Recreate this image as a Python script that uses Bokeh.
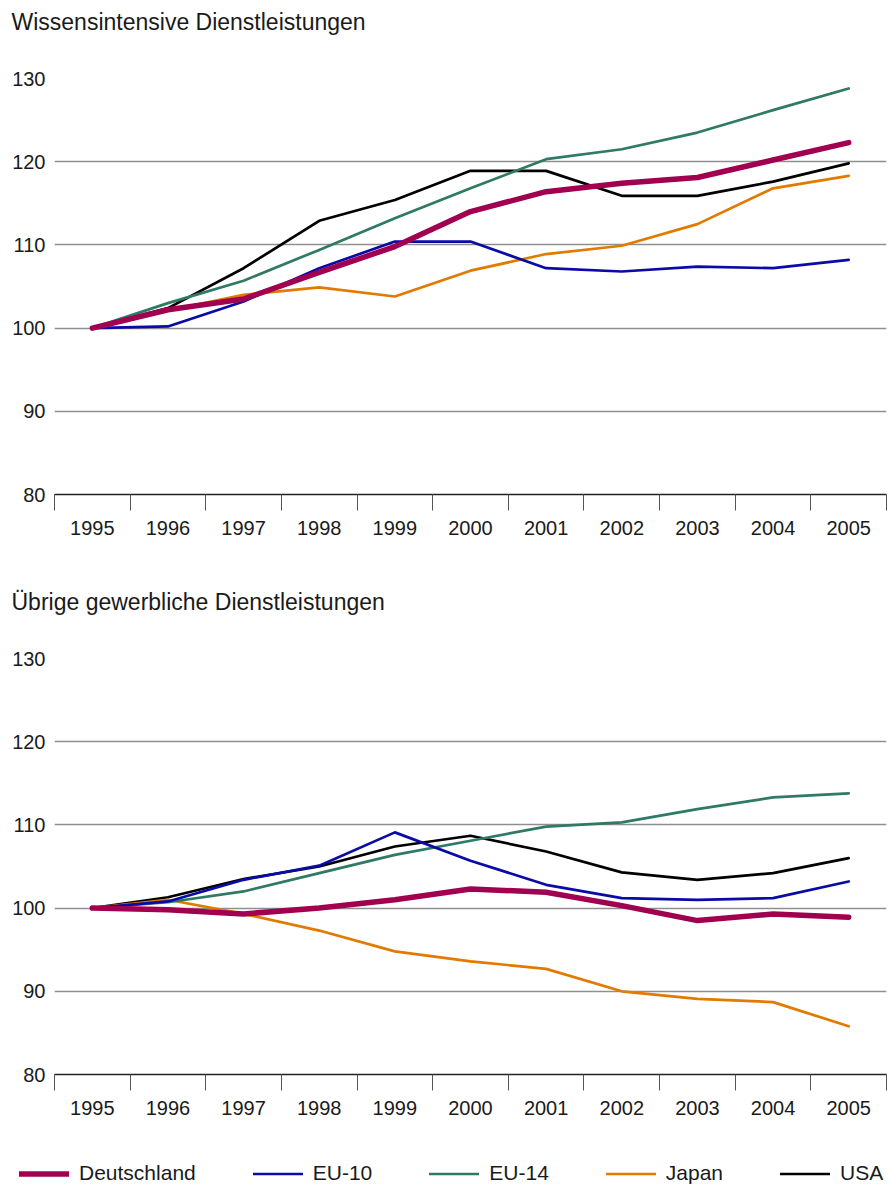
from bokeh.plotting import figure
from bokeh.layouts import column
from bokeh.models import Range1d, FixedTicker, Legend, LegendItem, Title
from bokeh.embed import file_html
from bokeh.resources import INLINE

years = [1995, 1996, 1997, 1998, 1999, 2000, 2001, 2002, 2003, 2004, 2005]
series_names = ["Deutschland", "EU-10", "EU-14", "Japan", "USA"]

# Wissensintensive Dienstleistungen
de_w = [100, 102.2, 103.5, 106.7, 109.8, 114.0, 116.4, 117.4, 118.1, 120.2, 122.3]
eu10_w = [100, 100.2, 103.2, 107.2, 110.4, 110.4, 107.2, 106.8, 107.4, 107.2, 108.2]
eu14_w = [100, 103.0, 105.7, 109.4, 113.2, 116.8, 120.3, 121.5, 123.5, 126.2, 128.8]
jp_w = [100, 102.1, 104.0, 104.9, 103.8, 106.9, 108.9, 109.9, 112.5, 116.8, 118.3]
us_w = [100, 102.4, 107.2, 112.9, 115.4, 118.9, 118.9, 115.9, 115.9, 117.6, 119.8]

# Übrige gewerbliche Dienstleistungen
de_u = [100, 99.8, 99.3, 100.0, 101.0, 102.3, 101.9, 100.3, 98.5, 99.3, 98.9]
eu10_u = [100, 100.8, 103.4, 105.1, 109.1, 105.7, 102.8, 101.2, 101.0, 101.2, 103.2]
eu14_u = [100, 100.7, 102.0, 104.2, 106.4, 108.1, 109.8, 110.3, 111.9, 113.3, 113.8]
jp_u = [100, 101.0, 99.3, 97.3, 94.8, 93.6, 92.7, 90.0, 89.1, 88.7, 85.8]
us_u = [100, 101.3, 103.5, 105.0, 107.4, 108.7, 106.8, 104.3, 103.4, 104.2, 106.0]

y_ticks = [80, 90, 100, 110, 120, 130]
titles = ["Wissensintensive Dienstleistungen", "Übrige gewerbliche Dienstleistungen"]

colors = {"Deutschland": "#A0004F", "EU-10": "#0A0AA8", "EU-14": "#2F7A64",
          "Japan": "#E27A00", "USA": "#000000"}
widths = {"Deutschland": 5.5, "EU-10": 2.7, "EU-14": 2.7, "Japan": 2.7, "USA": 2.7}
FONT = "Liberation Sans"


def make_fig(title, data, height, border_bottom):
    p = figure(width=890, height=height, output_backend="svg", toolbar_location=None,
               title=None,
               x_range=Range1d(years[0] - 0.5, years[-1] + 0.5),
               y_range=Range1d(80, 130),
               min_border_left=54, min_border_right=4,
               min_border_top=78, min_border_bottom=border_bottom)
    p.outline_line_color = None
    p.background_fill_color = "white"
    p.border_fill_color = "white"
    # spacer (nearest to the frame) and the visible title above it
    p.add_layout(Title(text=" ", text_font=FONT, text_font_size="10px", standoff=21), "above")
    p.add_layout(Title(text=title, text_font=FONT, text_font_size="23px",
                       text_font_style="normal", text_color="#1a1a1a",
                       align="left", offset=-43, standoff=16, vertical_align="top"), "above")

    xa = p.xaxis[0]
    xa.ticker = FixedTicker(ticks=years, minor_ticks=[y - 0.5 for y in years] + [years[-1] + 0.5])
    xa.major_label_overrides = {y: str(y) for y in years}
    xa.major_tick_out = 0
    xa.major_tick_in = 0
    xa.minor_tick_out = 16
    xa.minor_tick_in = 0
    xa.minor_tick_line_color = "#555555"
    xa.minor_tick_line_width = 1
    xa.axis_line_color = "#222222"
    xa.axis_line_width = 1.6
    xa.major_label_standoff = 10
    xa.major_label_text_font = FONT
    xa.major_label_text_font_size = "20px"
    xa.major_label_text_color = "#1a1a1a"

    ya = p.yaxis[0]
    ya.ticker = FixedTicker(ticks=y_ticks)
    ya.axis_line_color = None
    ya.major_tick_out = 0
    ya.major_tick_in = 0
    ya.minor_tick_line_color = None
    ya.major_label_standoff = 9
    ya.major_label_text_font = FONT
    ya.major_label_text_font_size = "20px"
    ya.major_label_text_color = "#1a1a1a"

    p.xgrid.visible = False
    p.ygrid[0].ticker = FixedTicker(ticks=y_ticks[1:])
    p.ygrid[0].grid_line_color = "#8f8f8f"
    p.ygrid[0].grid_line_width = 1.5

    renderers = {}
    for name in ["USA", "Japan", "EU-14", "EU-10", "Deutschland"]:
        renderers[name] = p.line(years, data[name], line_color=colors[name],
                                 line_width=widths[name], line_cap="round",
                                 line_join="round")
    return p, renderers


p1, r1 = make_fig(titles[0], {"Deutschland": de_w, "EU-10": eu10_w, "EU-14": eu14_w,
                              "Japan": jp_w, "USA": us_w}, 580, 86)
p2, r2 = make_fig(titles[1], {"Deutschland": de_u, "EU-10": eu10_u, "EU-14": eu14_u,
                              "Japan": jp_u, "USA": us_u}, 550, 56)

# legend strip (its own small figure whose frame spans the full width)
p3 = figure(width=890, height=55, output_backend="svg", toolbar_location=None,
            x_range=Range1d(0, 1), y_range=Range1d(0, 1),
            x_axis_type=None, y_axis_type=None,
            min_border_left=0, min_border_right=0, min_border_top=0, min_border_bottom=0)
leg_x = 19
try:
    p3.frame_align = False
except Exception:
    p3.min_border_left = 54
    p3.min_border_right = 4
    leg_x = -35
p3.outline_line_color = None
p3.grid.visible = False
nan = float("nan")
leg_r = {n: p3.line([nan], [nan], line_color=colors[n], line_width=widths[n], line_cap="round")
         for n in series_names}
legend = Legend(items=[LegendItem(label=n, renderers=[leg_r[n]]) for n in series_names],
                orientation="horizontal", location=(leg_x, 0),
                glyph_width=50, glyph_height=21, label_standoff=10, spacing=57,
                padding=0, margin=0, border_line_color=None,
                background_fill_alpha=0,
                label_text_font=FONT, label_text_font_size="21px",
                label_text_color="#1a1a1a", label_height=21)
p3.add_layout(legend)

layout = column(p1, p2, p3, spacing=0)
open("out.html", "w").write(file_html(layout, INLINE))
